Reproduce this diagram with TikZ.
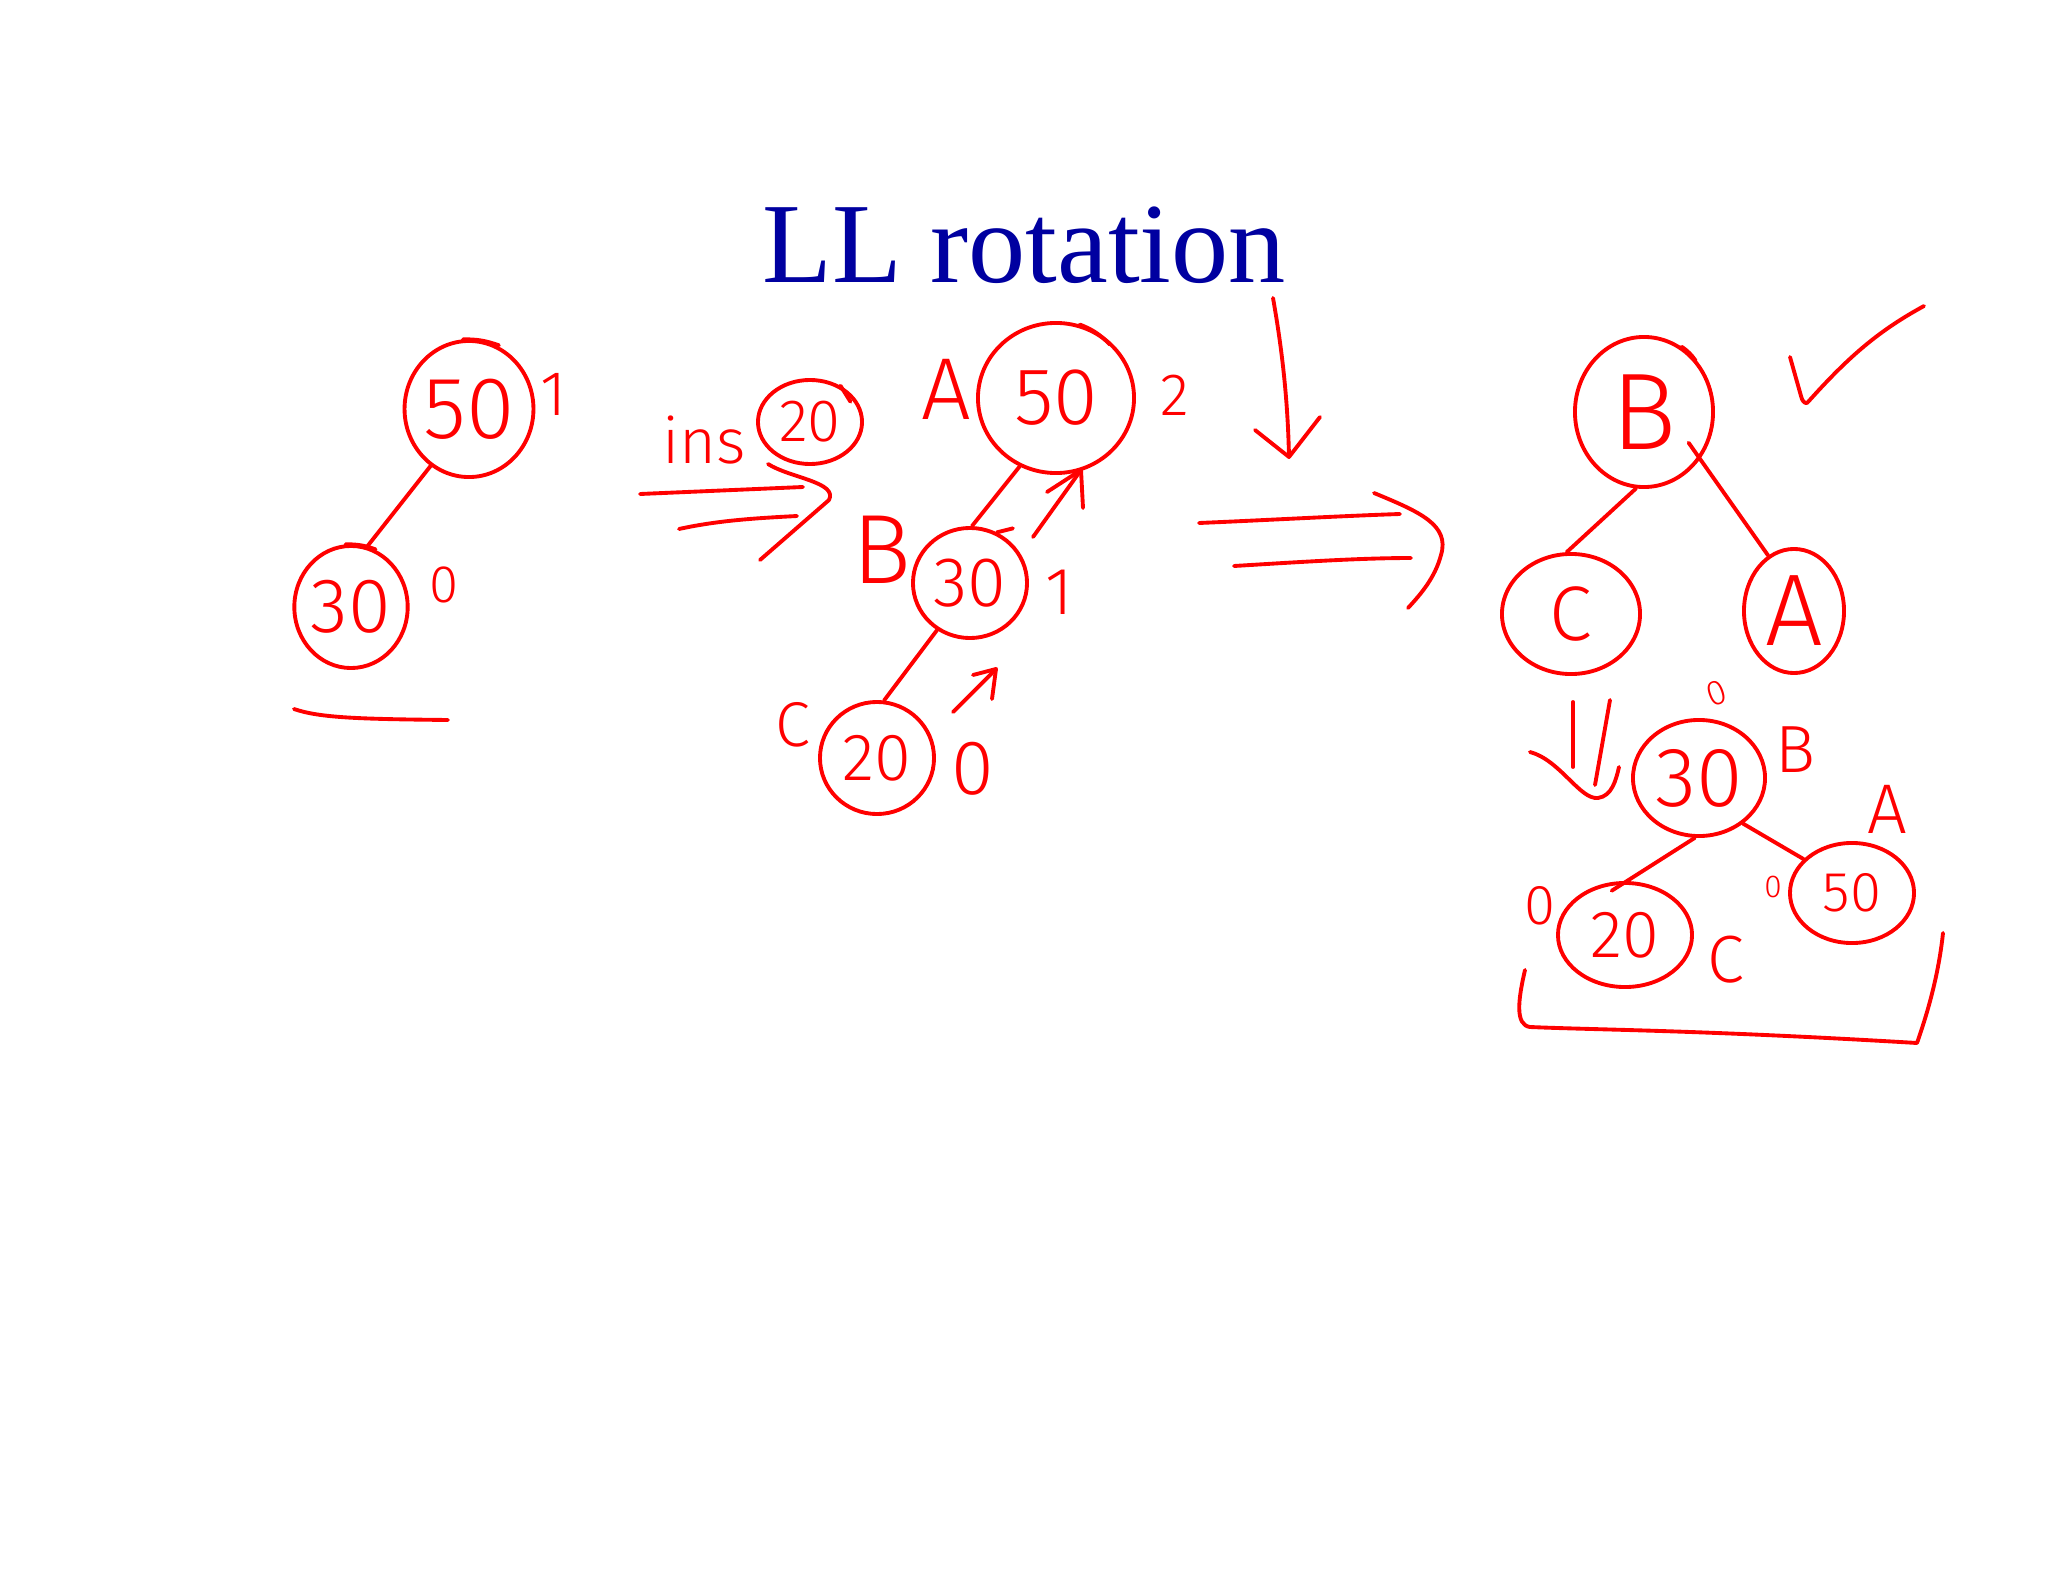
\documentclass[tikz,border=0pt]{standalone}
\usepackage{fontspec}
\setmainfont{Liberation Serif}
\newfontfamily\handfont{Fira Sans Light}
\usetikzlibrary{shapes.geometric}
\definecolor{titleblue}{RGB}{0,0,160}
\definecolor{pen}{RGB}{255,0,0}

\begin{document}
\begin{tikzpicture}[x=0.01cm, y=-0.01cm,
  ink/.style={draw=pen, line width=1.1pt, line cap=round, line join=round},
  ball/.style n args={3}{ellipse, draw=pen, line width=1.1pt, inner sep=0pt,
    minimum width=#1, minimum height=#2, text=pen,
    font={\handfont\fontsize{#3}{#3}\selectfont}},
  note/.style={text=pen, inner sep=0pt, font={\handfont\fontsize{#1}{#1}\selectfont}}]
  \fill[white] (0,0) rectangle (2048,1582);
  \useasboundingbox (0,0) rectangle (2048,1582);

  \node[anchor=base, text=titleblue, font=\fontsize{32.5}{32.5}\selectfont] (title) at (1024,283) {LL rotation};

  % before insertion
  \node[ball={1.20cm}{1.36cm}{25pt}] (a50) at (469,409) {50};
  \node[ball={1.02cm}{1.22cm}{22pt}] (a30) at (351,607) {30};
  \node[note=18pt] (a50bf) at (554,394) {1};
  \node[note=15pt] (a30bf) at (444,585) {0};
  \draw[ink] (a50.236) -- (a30.75);
  \draw[ink] (a50.95) to[bend left=10] ++(36,6);
  \draw[ink] (a30.95) to[bend left=10] ++(30,5);
  \coordinate (ul1) at (294,709);
  \coordinate (ul2) at (448,720);
  \draw[ink] (ul1) .. controls (320,718) and (360,719) .. (ul2);

  % insert 20
  \node[note=18pt] (ins) at (704,440) {ins};
  \node[ball={1.04cm}{0.84cm}{17pt}] (new20) at (810,422) {20};
  \draw[ink] (new20.50) -- ++(10,16);
  \coordinate (i1) at (640,494);
  \coordinate (i2) at (803,487);
  \coordinate (i3) at (679,529);
  \coordinate (i4) at (797,516);
  \coordinate (itip) at (829,500);
  \draw[ink] (i1) -- (i2);
  \draw[ink] (i3) .. controls (720,520) and (760,518) .. (i4);
  \draw[ink] (768,464) .. controls (790,478) and (838,482) .. (itip) -- (760,560);

  % after insertion
  \node[note=25pt] (bA) at (946,389) {A};
  \node[ball={1.56cm}{1.50cm}{23pt}] (b50) at (1056,398) {50};
  \node[note=17pt] (b50bf) at (1175,395) {2};
  \node[note=28pt] (bB) at (882,550) {B};
  \node[ball={1.14cm}{1.10cm}{20pt}] (b30) at (970,583) {30};
  \node[note=19pt] (b30bf) at (1059,592) {1};
  \node[note=18pt] (bC) at (793,725) {C};
  \node[ball={1.14cm}{1.12cm}{19pt}] (b20) at (877,758) {20};
  \node[note=22pt] (b20bf) at (973,769) {0};
  \draw[ink] (b50.242) -- (b30.88);
  \draw[ink] (b30.235) -- (b20.83);
  \draw[ink] (b50.72) to[bend left=12] ++(30,20);
  \draw[ink] (b30.62) -- ++(16,-4);
  \coordinate (u1) at (1033,537);
  \coordinate (u2) at (1081,470);
  \draw[ink] (u1) -- (u2);
  \draw[ink] (1047,492) -- (u2) -- (1083,508);
  \coordinate (v1) at (953,712);
  \coordinate (v2) at (996,669);
  \draw[ink] (v1) -- (v2);
  \draw[ink] (973,675) -- (v2) -- (992,699);

  % pointer to the title
  \coordinate (d1) at (1273,298);
  \coordinate (d2) at (1289,457);
  \draw[ink] (d1) .. controls (1284,360) and (1288,410) .. (d2);
  \draw[ink] (1255,430) -- (d2) -- (1320,417);

  \coordinate (r1) at (1199,523);
  \coordinate (r2) at (1400,514);
  \coordinate (r3) at (1234,566);
  \coordinate (r4) at (1411,558);
  \draw[ink] (r1) .. controls (1270,520) and (1340,516) .. (r2);
  \draw[ink] (r3) .. controls (1300,562) and (1360,558) .. (r4);
  \draw[ink] (1374,493) .. controls (1420,512) and (1450,525) .. (1441,555)
    .. controls (1435,578) and (1420,595) .. (1408,608);

  % rotated, general form
  \node[ball={1.38cm}{1.50cm}{31pt}] (nB) at (1644,412) {B};
  \node[ball={1.38cm}{1.20cm}{22pt}] (nC) at (1571,614) {C};
  \node[ball={1.00cm}{1.24cm}{29pt}] (nA) at (1794,611) {A};
  \draw[ink] (nB.264) -- (nC.94);
  \draw[ink, shorten <=-0.2cm] (nB.-40) -- (nA.115);
  \draw[ink] (nB.60) to[bend left=10] ++(14,14);
  \coordinate (ck1) at (1790,357);
  \coordinate (ck2) at (1808,402);
  \coordinate (ck3) at (1924,306);
  \draw[ink] (ck1) -- (1801,396) .. controls (1803,404) and (1807,404) .. (ck2)
    .. controls (1850,355) and (1880,330) .. (ck3);

  % rotated tree
  \coordinate (w1) at (1573,702);
  \coordinate (w2) at (1573,767);
  \coordinate (w3) at (1610,700);
  \coordinate (w4) at (1595,785);
  \draw[ink] (w1) -- (w2);
  \draw[ink] (w3) -- (w4);
  \draw[ink] (1530,752) .. controls (1560,760) and (1580,800) .. (1598,798)
    .. controls (1612,796) and (1616,780) .. (1619,767);
  \node[note=10pt, rotate=20] (c30bf) at (1717,693) {0};
  \node[ball={1.32cm}{1.16cm}{24pt}] (c30) at (1699,778) {30};
  \node[note=19pt] (cB) at (1795,750) {B};
  \node[note=20pt] (cA) at (1887,809) {A};
  \node[ball={1.24cm}{1.00cm}{16pt}] (c50) at (1852,893) {50};
  \node[note=9pt] (c50bf) at (1773,887) {0};
  \node[ball={1.34cm}{1.04cm}{19pt}] (c20) at (1625,935) {20};
  \node[note=16pt] (c20bf) at (1540,906) {0};
  \node[note=19pt] (cC) at (1726,960) {C};
  \draw[ink] (c30.-46) -- (c50.145);
  \draw[ink, shorten >=-0.18cm] (c30.266) -- (c20.88);
  \coordinate (br1) at (1525,970);
  \coordinate (br2) at (1530,1027);
  \coordinate (br3) at (1917,1043);
  \coordinate (br4) at (1943,933);
  \draw[ink] (br1) .. controls (1518,1000) and (1515,1025) .. (br2)
    .. controls (1600,1030) and (1700,1030) .. (br3)
    .. controls (1925,1020) and (1938,980) .. (br4);
\end{tikzpicture}
\end{document}
